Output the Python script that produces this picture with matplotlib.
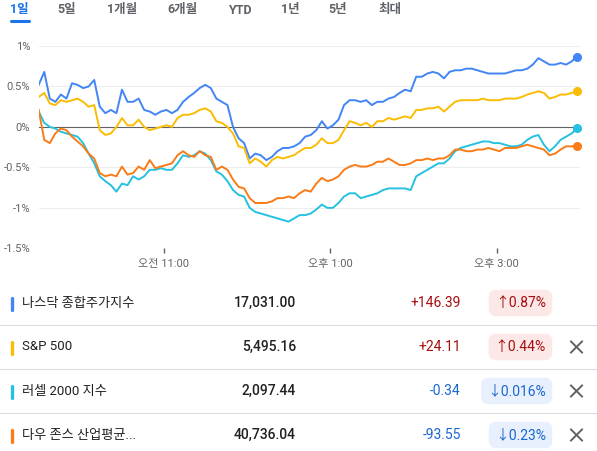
import numpy as np
import pandas as pd
import matplotlib
matplotlib.use('Agg')
import matplotlib.pyplot as plt

plt.rcParams['font.family'] = ['Roboto', 'Noto Sans CJK KR', 'DejaVu Sans']

# dados (% de variacao no dia, a cada 4 minutos desde 9:30)
nasdaq = [0.52, 0.68, 0.35, 0.31, 0.40, 0.35, 0.54, 0.52, 0.48, 0.50,
          0.58, 0.25, 0.17, 0.21, 0.17, 0.46, 0.31, 0.31, 0.35, 0.21,
          0.19, 0.15, 0.19, 0.21, 0.17, 0.21, 0.31, 0.37, 0.42, 0.48,
          0.52, 0.48, 0.35, 0.31, 0.27, 0.00, -0.14, -0.20, -0.39, -0.33,
          -0.35, -0.41, -0.37, -0.30, -0.26, -0.26, -0.24, -0.20, -0.12, -0.10,
          -0.04, 0.07, -0.02, 0.02, 0.09, 0.27, 0.33, 0.33, 0.31, 0.33,
          0.27, 0.31, 0.31, 0.35, 0.37, 0.42, 0.46, 0.44, 0.62, 0.62,
          0.66, 0.68, 0.66, 0.60, 0.68, 0.70, 0.70, 0.72, 0.72, 0.70,
          0.68, 0.66, 0.66, 0.66, 0.66, 0.68, 0.70, 0.70, 0.72, 0.77,
          0.85, 0.81, 0.77, 0.77, 0.79, 0.77, 0.81, 0.87]
sp500 = [0.37, 0.42, 0.29, 0.27, 0.33, 0.31, 0.33, 0.35, 0.31, 0.25,
         0.27, -0.04, -0.10, -0.08, 0.00, 0.11, 0.02, 0.02, 0.09, 0.00,
         -0.04, -0.02, 0.00, 0.02, 0.00, 0.11, 0.15, 0.15, 0.17, 0.21,
         0.23, 0.19, 0.07, 0.05, 0.00, -0.08, -0.24, -0.26, -0.45, -0.39,
         -0.43, -0.49, -0.41, -0.37, -0.39, -0.37, -0.35, -0.30, -0.26, -0.26,
         -0.22, -0.14, -0.20, -0.20, -0.16, -0.04, 0.07, 0.05, 0.02, 0.05,
         0.00, 0.07, 0.07, 0.11, 0.09, 0.11, 0.13, 0.11, 0.21, 0.21,
         0.23, 0.23, 0.25, 0.19, 0.25, 0.31, 0.33, 0.33, 0.33, 0.33,
         0.35, 0.33, 0.33, 0.33, 0.35, 0.35, 0.35, 0.37, 0.40, 0.42,
         0.44, 0.42, 0.35, 0.37, 0.40, 0.40, 0.42, 0.44]
russell = [0.19, 0.05, 0.00, -0.02, -0.06, -0.08, -0.10, -0.12, -0.20, -0.33,
           -0.45, -0.61, -0.67, -0.72, -0.80, -0.70, -0.72, -0.61, -0.65, -0.61,
           -0.53, -0.53, -0.51, -0.53, -0.53, -0.45, -0.35, -0.37, -0.35, -0.30,
           -0.33, -0.41, -0.55, -0.59, -0.67, -0.78, -0.84, -0.86, -1.00, -1.05,
           -1.07, -1.09, -1.11, -1.13, -1.15, -1.17, -1.13, -1.09, -1.09, -1.07,
           -1.02, -0.96, -1.00, -1.00, -0.94, -0.86, -0.82, -0.82, -0.88, -0.86,
           -0.84, -0.82, -0.78, -0.76, -0.76, -0.76, -0.76, -0.78, -0.61, -0.57,
           -0.53, -0.49, -0.45, -0.45, -0.39, -0.30, -0.26, -0.24, -0.22, -0.20,
           -0.18, -0.18, -0.20, -0.20, -0.22, -0.24, -0.24, -0.22, -0.16, -0.12,
           -0.10, -0.22, -0.30, -0.24, -0.16, -0.12, -0.08, -0.016]
dow = [0.21, -0.16, -0.20, -0.08, -0.02, -0.04, -0.12, -0.18, -0.24, -0.33,
       -0.39, -0.57, -0.61, -0.59, -0.61, -0.49, -0.59, -0.57, -0.49, -0.53,
       -0.41, -0.51, -0.49, -0.47, -0.45, -0.35, -0.30, -0.35, -0.37, -0.30,
       -0.35, -0.37, -0.53, -0.49, -0.53, -0.65, -0.74, -0.76, -0.88, -0.94,
       -0.94, -0.94, -0.92, -0.88, -0.88, -0.86, -0.88, -0.82, -0.78, -0.80,
       -0.70, -0.63, -0.67, -0.65, -0.61, -0.53, -0.49, -0.47, -0.49, -0.49,
       -0.47, -0.43, -0.43, -0.39, -0.43, -0.47, -0.47, -0.45, -0.41, -0.41,
       -0.39, -0.41, -0.39, -0.39, -0.35, -0.28, -0.28, -0.30, -0.30, -0.28,
       -0.28, -0.26, -0.28, -0.30, -0.26, -0.26, -0.26, -0.24, -0.22, -0.24,
       -0.26, -0.28, -0.35, -0.33, -0.28, -0.24, -0.24, -0.23]

series = [nasdaq, sp500, russell, dow]
colors = ['#4285f4', '#fbbc04', '#24c1e0', '#fa7b17']

# tabela de baixo
names = ['나스닥 종합주가지수', 'S&P 500', '러셀 2000 지수', '다우 존스 산업평균...']
prices = ['17,031.00', '5,495.16', '2,097.44', '40,736.04']
changes = ['+146.39', '+24.11', '-0.34', '-93.55']
pcts = ['↑0.87%', '↑0.44%', '↓0.016%', '↓0.23%']
has_close = [False, True, True, True]

tabs = ['1일', '5일', '1개월', '6개월', 'YTD', '1년', '5년', '최대']
tab_x = [19.5, 67, 122, 182, 240, 290, 338, 390]

yticks = [1, 0.5, 0, -0.5, -1, -1.5]
ylabels = ['1%', '0.5%', '0%', '-0.5%', '-1%', '-1.5%']
xticks = [11, 13, 15]
xlabels = ['오전 11:00', '오후 1:00', '오후 3:00']

# eixo de tempo em horas
times = pd.date_range('2024-07-01 09:30', periods=len(nasdaq), freq='4min')
hours = times.hour + times.minute / 60

W, H = 597, 451
fig = plt.figure(figsize=(W / 100, H / 100), dpi=100)

# grafico de linhas
ax = fig.add_axes([38.7 / W, 1 - 248.3 / H, (580 - 38.7) / W, (248.3 - 46) / H])
for vals, c in zip(series, colors):
    ax.plot(hours, vals, color=c, lw=1.4, solid_joinstyle='round')
    ax.plot(hours[-1], vals[-1], 'o', color=c, ms=5.5, clip_on=False, zorder=5)

ax.set_xlim(9.5, 16.0)
ax.set_ylim(-1.5, 1.0)
for y in yticks:
    if y != 0:
        ax.axhline(y, color='#eeeeee', lw=0.8, zorder=0)
ax.axhline(0, color='#5f6368', lw=0.8, zorder=1)

ax.set_yticks(yticks)
ax.set_yticklabels(ylabels)
ax.set_xticks(xticks)
ax.set_xticklabels(xlabels)
ax.tick_params(axis='y', length=0, pad=6, labelsize=8, labelcolor='#5f6368')
ax.tick_params(axis='x', length=3.5, width=1, color='#5f6368', pad=4,
               labelsize=8, labelcolor='#5f6368')
for s in ax.spines.values():
    s.set_visible(False)
ax.patch.set_alpha(0)

# camada em pixels para abas e tabela
ov = fig.add_axes([0, 0, 1, 1])
ov.set_xlim(0, W)
ov.set_ylim(H, 0)
ov.axis('off')

for i, (t, x) in enumerate(zip(tabs, tab_x)):
    cor = '#1a73e8' if i == 0 else '#5f6368'
    ov.text(x, 10, t, ha='center', va='center', fontsize=9,
            fontweight='bold', color=cor)
ov.plot([10.5, 29], [20.5, 20.5], color='#1a73e8', lw=2.2, solid_capstyle='round')

row_y = [303, 347, 391, 435]
for sep in [325, 369, 413]:
    ov.plot([0, W], [sep, sep], color='#dadce0', lw=0.8)

for i in range(4):
    y = row_y[i]
    # barrinha colorida de cada indice
    ov.plot([11.5, 11.5], [y - 5.5, y + 6.5], color=colors[i], lw=2.4,
            solid_capstyle='round')
    ov.text(21.7, y, names[i], ha='left', va='center', fontsize=9.5,
            color='#202124')
    ov.text(296, y, prices[i], ha='right', va='center', fontsize=10,
            fontweight='medium', color='#202124')
    sobe = changes[i].startswith('+')
    txt_cor = '#a50e0e' if sobe else '#1967d2'
    bg_cor = '#fce8e6' if sobe else '#e8f0fe'
    ov.text(461, y, changes[i], ha='right', va='center', fontsize=10,
            color=txt_cor)
    ov.text(546, y, pcts[i], ha='right', va='center', fontsize=10,
            color=txt_cor,
            bbox=dict(boxstyle='round,pad=0.45,rounding_size=0.55',
                      fc=bg_cor, ec='none'))
    if has_close[i]:
        cx, d = 576.5, 5.5
        ov.plot([cx - d, cx + d], [y - d, y + d], color='#5f6368', lw=1.4)
        ov.plot([cx - d, cx + d], [y + d, y - d], color='#5f6368', lw=1.4)

fig.savefig('out.png', dpi=100)
